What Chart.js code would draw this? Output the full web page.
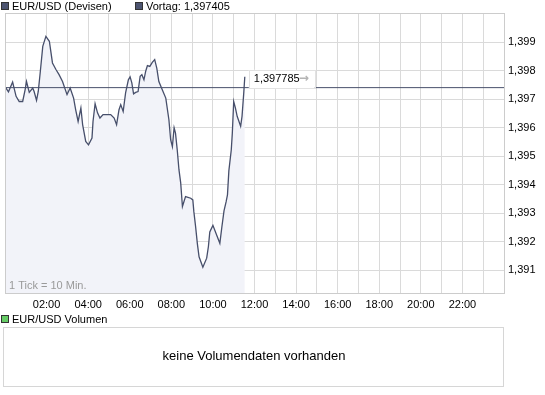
<!DOCTYPE html>
<html lang="de">
  <head>
    <meta charset="UTF-8" />
    <title>EUR/USD</title>
    <script src="https://cdn.jsdelivr.net/npm/chart.js@4.4.1/dist/chart.umd.min.js"></script>
    <style>
      html, body { margin: 0; padding: 0; background: #fff; }
      canvas { display: block; }
    </style>
  </head>
  <body>
    <canvas id="myChart" width="545" height="395"></canvas>
    <script>
      // minutes since 00:00
      const times = [0, 10, 22, 32, 41, 51, 58, 62, 70, 80, 84, 91, 96, 102, 109, 118, 128, 137, 147, 156,
        166, 179, 188, 198, 204, 211, 219, 224, 233, 241, 251, 254, 260, 267, 274, 283, 305, 315, 322, 329,
        334, 341, 348, 356, 361, 366, 371, 377, 384, 390, 395, 401, 406, 411, 418, 425, 432, 438, 444, 456,
        464, 473, 478, 483, 488, 492, 497, 502, 507, 512, 521, 536, 542, 545, 550, 555, 560, 571, 582, 587,
        591, 600, 611, 620, 626, 632, 638, 642, 646, 653, 656, 660, 665, 670, 680, 684, 689, 692];
      const rates = [1.39744, 1.39726, 1.39760, 1.39710, 1.39692, 1.39692, 1.39733, 1.39762, 1.39724, 1.39739,
        1.39727, 1.39696, 1.39727, 1.39798, 1.39885, 1.39920, 1.39903, 1.39827, 1.39804, 1.39786,
        1.39762, 1.39716, 1.39739, 1.39704, 1.39663, 1.39622, 1.39669, 1.39611, 1.39552, 1.39540,
        1.39564, 1.39622, 1.39684, 1.39652, 1.39634, 1.39646, 1.39646, 1.39634, 1.39611, 1.39663,
        1.39681, 1.39657, 1.39722, 1.39768, 1.39778, 1.39757, 1.39719, 1.39724, 1.39727, 1.39780,
        1.39786, 1.39768, 1.39798, 1.39818, 1.39815, 1.39829, 1.39839, 1.39809, 1.39762, 1.39727,
        1.39704, 1.39628, 1.39558, 1.39534, 1.39600, 1.39581, 1.39523, 1.39453, 1.39407, 1.39324,
        1.39359, 1.39353, 1.39347, 1.39306, 1.39254, 1.39195, 1.39148, 1.39111, 1.39143, 1.39184,
        1.39235, 1.39258, 1.39223, 1.39195, 1.39254, 1.39309, 1.39340, 1.39365, 1.39449, 1.39523,
        1.39581, 1.39692, 1.39669, 1.39640, 1.39605, 1.39640, 1.39722, 1.397785];
      const prevClose = 1.397405;

      const yTicks = [1.391, 1.392, 1.393, 1.394, 1.395, 1.396, 1.397, 1.398, 1.399];
      const yTickLabels = ["1,391", "1,392", "1,393", "1,394", "1,395", "1,396", "1,397", "1,398", "1,399"];
      const xTicks = [120, 240, 360, 480, 600, 720, 840, 960, 1080, 1200, 1320];
      const xTickLabels = ["02:00", "04:00", "06:00", "08:00", "10:00", "12:00", "14:00", "16:00", "18:00", "20:00", "22:00"];

      const LINE = "#474f6b";
      const FILL = "#f2f3f9";
      const GRID = "#dadada";
      const FONT = "'Liberation Sans', Arial, sans-serif";

      Chart.defaults.font.family = FONT;
      Chart.defaults.font.size = 11;
      Chart.defaults.color = "#000";

      function fmt(v, d) {
        return v.toFixed(d).replace(".", ",");
      }

      function square(ctx, x, y, fill) {
        ctx.fillStyle = fill;
        ctx.fillRect(x, y, 8, 8);
        ctx.strokeStyle = "#333";
        ctx.lineWidth = 1;
        ctx.strokeRect(x + 0.5, y + 0.5, 7, 7);
      }

      const decor = {
        id: "decor",
        afterDatasetsDraw(chart) {
          const { ctx, chartArea: a, scales } = chart;
          const x = scales.x, y = scales.y;
          ctx.save();
          // plot frame
          ctx.strokeStyle = "#cccccc";
          ctx.lineWidth = 1;
          ctx.strokeRect(Math.round(a.left) + 0.5, Math.round(a.top) + 0.5,
            Math.round(a.right - a.left), Math.round(a.bottom - a.top));

          // last price box
          const last = rates[rates.length - 1];
          const bx = x.getPixelForValue(times[times.length - 1]) + 4;
          const by = y.getPixelForValue(last) - 7;
          ctx.fillStyle = "#fff";
          ctx.fillRect(bx, by, 66, 19);
          ctx.strokeStyle = "#e2e2e2";
          ctx.strokeRect(Math.round(bx) + 0.5, Math.round(by) + 0.5, 66, 18);
          ctx.font = "11px " + FONT;
          ctx.textBaseline = "middle";
          ctx.textAlign = "left";
          ctx.fillStyle = "#000";
          ctx.fillText(fmt(last, 6), bx + 5, by + 9.5);
          ctx.fillStyle = "#b4b4b4";
          ctx.font = "bold 12px 'DejaVu Sans', sans-serif";
          ctx.fillText("\u2192", bx + 50, by + 9.5);

          // tick note
          ctx.font = "11px " + FONT;
          ctx.fillStyle = "#9a9a9a";
          ctx.fillText("1 Tick = 10 Min.", a.left + 4, a.bottom - 7);

          // header legend
          square(ctx, 1, 2, "#4c5470");
          ctx.fillStyle = "#000";
          ctx.font = "11px " + FONT;
          ctx.fillText("EUR/USD (Devisen)", 12, 7);
          square(ctx, 135, 2, "#4c5470");
          ctx.fillStyle = "#000";
          ctx.fillText("Vortag: " + fmt(prevClose, 6), 146, 7);

          // volume panel
          square(ctx, 1, 315, "#66cc66");
          ctx.fillStyle = "#000";
          ctx.fillText("EUR/USD Volumen", 12, 320);
          ctx.strokeStyle = "#d6d6d6";
          ctx.strokeRect(3.5, 327.5, 500, 59);
          ctx.textAlign = "center";
          ctx.font = "13px " + FONT;
          ctx.fillText("keine Volumendaten vorhanden", 254, 356);
          ctx.restore();
        },
      };

      const ctx = document.getElementById("myChart");
      const myChart = new Chart(ctx, {
        type: "line",
        data: {
          datasets: [
            {
              label: "EUR/USD",
              data: times.map((t, i) => ({ x: t, y: rates[i] })),
              borderColor: LINE,
              backgroundColor: FILL,
              borderWidth: 1.3,
              fill: "start",
              pointRadius: 0,
              tension: 0,
            },
            {
              label: "Vortag",
              data: [{ x: 0, y: prevClose }, { x: 1440, y: prevClose }],
              borderColor: LINE,
              borderWidth: 1,
              fill: false,
              pointRadius: 0,
            },
          ],
        },
        options: {
          responsive: false,
          animation: false,
          layout: { padding: { left: 4, top: 13, right: 0, bottom: 0 } },
          plugins: {
            legend: { display: false },
            tooltip: { enabled: false },
            filler: { drawTime: "beforeDatasetsDraw" },
          },
          scales: {
            x: {
              type: "linear",
              min: 0,
              max: 1440,
              grid: { color: GRID, drawTicks: false },
              border: { color: "#cccccc" },
              ticks: {
                stepSize: 60,
                autoSkip: false,
                maxRotation: 0,
                padding: 5,
                callback: (v) => {
                  const i = xTicks.indexOf(v);
                  return i >= 0 ? xTickLabels[i] : "";
                },
              },
              afterFit: (s) => { s.height = 102; },
            },
            y: {
              position: "right",
              min: 1.39021,
              max: 1.40002,
              grid: { color: GRID, drawTicks: false },
              border: { color: "#cccccc" },
              afterBuildTicks: (s) => { s.ticks = yTicks.map((v) => ({ value: v })); },
              ticks: {
                padding: 4,
                callback: (v) => {
                  const i = yTicks.findIndex((t) => Math.abs(t - v) < 1e-7);
                  return i >= 0 ? yTickLabels[i] : "";
                },
              },
              afterFit: (s) => { s.width = 41; },
            },
          },
        },
        plugins: [decor],
      });
    </script>
  </body>
</html>
